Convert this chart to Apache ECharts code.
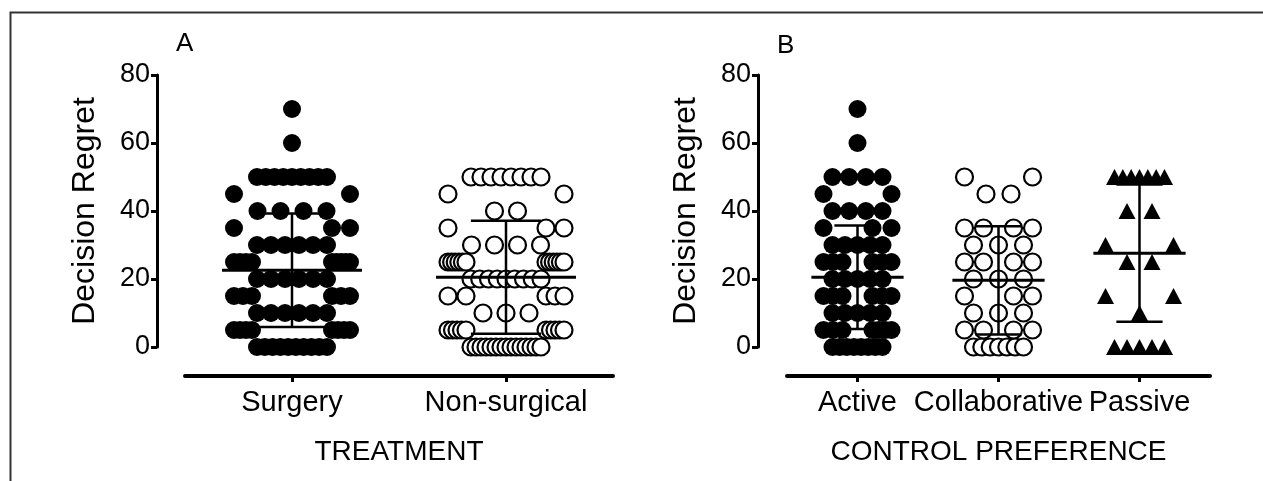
<!DOCTYPE html>
<html><head><meta charset="utf-8">
<script src="https://cdn.jsdelivr.net/npm/echarts@6/dist/echarts.min.js"></script>
<style>html,body{margin:0;padding:0;background:#fff}#c{width:1263px;height:481px}</style>
</head><body><div id="c"></div>
<script>
// ---------- data ----------
const yTicks = [0, 20, 40, 60, 80];
const treatmentCats = ['Surgery', 'Non-surgical'];
const controlCats = ['Active', 'Collaborative', 'Passive'];

const surgeryRegret = [
  70, 60,
  50, 50, 50, 50, 50, 50, 50, 50, 50,
  45, 45,
  40, 40, 40, 40,
  35, 35, 35,
  30, 30, 30, 30, 30, 30,
  25, 25, 25, 25, 25, 25, 25, 25, 25,
  20, 20, 20, 20, 20, 20,
  15, 15, 15, 15, 15, 15,
  10, 10, 10, 10, 10, 10,
  5, 5, 5, 5, 5, 5, 5, 5,
  0, 0, 0, 0, 0, 0, 0, 0, 0, 0
];
const nonSurgicalRegret = [
  50, 50, 50, 50, 50, 50, 50, 50,
  45, 45,
  40, 40,
  35, 35, 35,
  30, 30, 30, 30,
  25, 25, 25, 25, 25, 25, 25, 25, 25, 25, 25, 25,
  20, 20, 20, 20, 20, 20, 20, 20, 20,
  15, 15, 15, 15, 15,
  10, 10, 10,
  5, 5, 5, 5, 5, 5, 5, 5, 5, 5,
  0, 0, 0, 0, 0, 0, 0, 0, 0, 0, 0, 0, 0, 0, 0
];
const activeRegret = [
  70, 60,
  50, 50, 50, 50,
  45, 45,
  40, 40, 40, 40,
  35, 35, 35,
  30, 30, 30, 30, 30,
  25, 25, 25, 25, 25, 25,
  20, 20, 20, 20, 20,
  15, 15, 15, 15, 15, 15,
  10, 10, 10, 10, 10,
  5, 5, 5, 5, 5, 5, 5,
  0, 0, 0, 0, 0, 0, 0, 0
];
const collaborativeRegret = [
  50, 50,
  45, 45,
  35, 35, 35, 35,
  30, 30, 30,
  25, 25, 25, 25,
  20, 20, 20,
  15, 15, 15,
  10, 10, 10,
  5, 5, 5, 5,
  0, 0, 0, 0, 0, 0, 0
];
const passiveRegret = [
  50, 50, 50, 50, 50, 50, 50,
  40, 40,
  30, 30,
  25, 25,
  15, 15,
  10,
  0, 0, 0, 0, 0
];
// mean and SD bars
const treatmentMeans = [22.6, 20.5];
const treatmentSDs = [16.7, 16.6];
const controlMeans = [20.5, 19.6, 27.6];
const controlSDs = [15.2, 15.9, 20.2];

// ---------- layout ----------
const W = 1263, H = 481;
const gridA = {left: 185, right: 650, top: 75, bottom: 134};
const gridB = {left: 787, right: 53, top: 75, bottom: 134};
const FONT = '"Liberation Sans", Arial, sans-serif';
const STEP = 5; // value spacing of neighbouring rows that would touch

// column-scatter layout: equal values share a row; a row sitting right above a
// centred row is pushed to the sides, otherwise it is centred (Prism-like).
// spacing (px): wc centred half-width, wi/wo inner/outer edge of side clusters, smax max step
function spread(values, catIndex, sp) {
  const counts = new Map();
  values.forEach(v => counts.set(v, (counts.get(v) || 0) + 1));
  const mode = new Map();
  const out = [];
  [...counts.keys()].sort((a, b) => a - b).forEach(v => {
    const n = counts.get(v);
    const below = mode.get(v - STEP);
    const xs = [];
    if (below === 'center') {
      mode.set(v, 'split');
      const kl = Math.floor(n / 2), kr = n - kl;
      [[kl, -1], [kr, 1]].forEach(([k, s]) => {
        const step = k > 1 ? Math.min(sp.smax, (sp.wo - sp.wi) / (k - 1)) : 0;
        for (let j = 0; j < k; j++) xs.push(s * (sp.wo - j * step));
      });
    } else {
      mode.set(v, 'center');
      const step = n > 1 ? Math.min(sp.smax, 2 * sp.wc / (n - 1)) : 0;
      for (let i = 0; i < n; i++) xs.push((i - (n - 1) / 2) * step);
    }
    xs.sort((a, b) => a - b).forEach(dx => out.push({value: [catIndex, v], symbolOffset: [dx, 0]}));
  });
  return out;
}
const spA = {wc: 35, wi: 40, wo: 58, smax: 23};
const spB = {wc: 25, wi: 15, wo: 34, smax: 25};

function barItem(params, api) {
  const x = api.value(0), m = api.value(1), sd = api.value(2);
  const band = api.size([1, 0])[0];
  const c = api.coord([x, m]);
  const t = api.coord([x, m + sd]);
  const b = api.coord([x, m - sd]);
  const mh = band * 0.327, ch = band * 0.164;
  const st = w => ({stroke: '#000', lineWidth: w});
  return {type: 'group', children: [
    {type: 'line', shape: {x1: t[0], y1: t[1], x2: b[0], y2: b[1]}, style: st(2.5)},
    {type: 'line', shape: {x1: t[0] - ch, y1: t[1], x2: t[0] + ch, y2: t[1]}, style: st(2.5)},
    {type: 'line', shape: {x1: b[0] - ch, y1: b[1], x2: b[0] + ch, y2: b[1]}, style: st(2.5)},
    {type: 'line', shape: {x1: c[0] - mh, y1: c[1], x2: c[0] + mh, y2: c[1]}, style: st(3)}
  ]};
}

function yAxisDef(gridIndex, offset) {
  return {
    type: 'value', gridIndex, min: yTicks[0], max: yTicks[yTicks.length - 1],
    interval: yTicks[1] - yTicks[0], offset,
    name: 'Decision Regret', nameLocation: 'middle', nameGap: 56,
    nameTextStyle: {fontFamily: FONT, fontSize: 32, color: '#000'},
    axisLine: {show: true, onZero: false, lineStyle: {color: '#000', width: 3}},
    axisTick: {show: true, length: 6, lineStyle: {color: '#000', width: 3}},
    axisLabel: {fontFamily: FONT, fontSize: 27, color: '#000', margin: 7},
    splitLine: {show: false}
  };
}
function xAxisDef(gridIndex, cats, name) {
  return {
    type: 'category', gridIndex, data: cats, offset: 29,
    name, nameLocation: 'middle', nameGap: 62,
    nameTextStyle: {fontFamily: FONT, fontSize: 28, color: '#000'},
    axisLine: {show: true, onZero: false, lineStyle: {color: '#000', width: 4}},
    axisTick: {show: true, alignWithLabel: true, length: 6, lineStyle: {color: '#000', width: 3}},
    axisLabel: {fontFamily: FONT, fontSize: 29, color: '#000', margin: 12, interval: 0},
    splitLine: {show: false}
  };
}

const filled = {color: '#000', opacity: 1};
const open = {color: '#fff', borderColor: '#000', borderWidth: 2.2, opacity: 1};

const series = [
  {type: 'scatter', xAxisIndex: 0, yAxisIndex: 0, symbol: 'circle', symbolSize: 18,
   itemStyle: filled, silent: true, z: 2, data: spread(surgeryRegret, 0, spA)},
  {type: 'scatter', xAxisIndex: 0, yAxisIndex: 0, symbol: 'circle', symbolSize: 17,
   itemStyle: open, silent: true, z: 2, data: spread(nonSurgicalRegret, 1, spA)},
  {type: 'scatter', xAxisIndex: 1, yAxisIndex: 1, symbol: 'circle', symbolSize: 18,
   itemStyle: filled, silent: true, z: 2, data: spread(activeRegret, 0, spB)},
  {type: 'scatter', xAxisIndex: 1, yAxisIndex: 1, symbol: 'circle', symbolSize: 17,
   itemStyle: open, silent: true, z: 2, data: spread(collaborativeRegret, 1, spB)},
  {type: 'scatter', xAxisIndex: 1, yAxisIndex: 1, symbol: 'triangle', symbolSize: [17, 16],
   itemStyle: filled, silent: true, z: 2, data: spread(passiveRegret, 2, spB)},
  {type: 'custom', xAxisIndex: 0, yAxisIndex: 0, renderItem: barItem, silent: true, z: 5,
   encode: {x: 0, y: 1},
   data: treatmentMeans.map((m, i) => [i, m, treatmentSDs[i]])},
  {type: 'custom', xAxisIndex: 1, yAxisIndex: 1, renderItem: barItem, silent: true, z: 5,
   encode: {x: 0, y: 1},
   data: controlMeans.map((m, i) => [i, m, controlSDs[i]])}
];

const chart = echarts.init(document.getElementById('c'), null, {renderer: 'canvas'});
chart.setOption({
  animation: false,
  backgroundColor: '#fff',
  grid: [
    Object.assign({containLabel: false, outerBoundsMode: 'none'}, gridA),
    Object.assign({containLabel: false, outerBoundsMode: 'none'}, gridB)
  ],
  xAxis: [xAxisDef(0, treatmentCats, 'TREATMENT'), xAxisDef(1, controlCats, 'CONTROL PREFERENCE')],
  yAxis: [yAxisDef(0, 28), yAxisDef(1, 29)],
  graphic: [
    {type: 'polyline', silent: true, shape: {points: [[10.5, H], [10.5, 12.5], [W, 12.5]]},
     style: {stroke: '#333', lineWidth: 2, fill: null}},
    {type: 'text', silent: true, left: 176, top: 31,
     style: {text: 'A', fontFamily: FONT, fontSize: 26, fill: '#000'}},
    {type: 'text', silent: true, left: 777, top: 33,
     style: {text: 'B', fontFamily: FONT, fontSize: 26, fill: '#000'}}
  ],
  series
});
</script></body></html>
